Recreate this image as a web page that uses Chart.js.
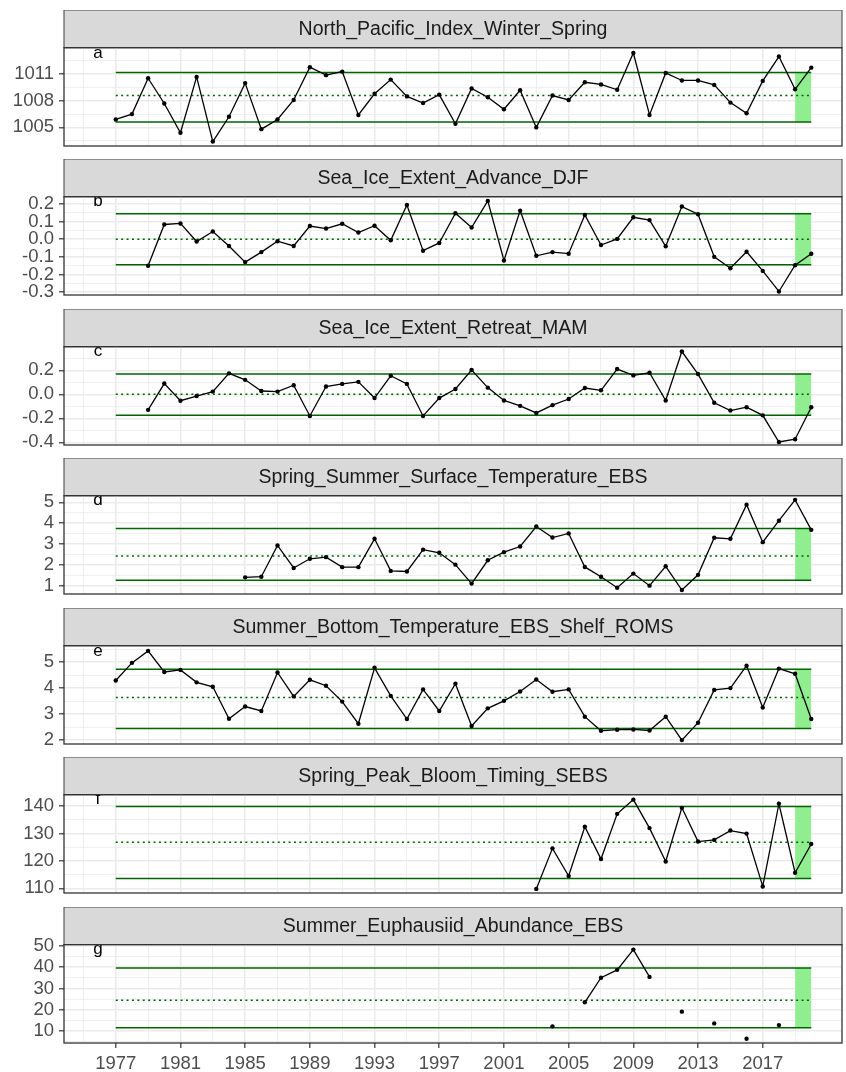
<!DOCTYPE html>
<html>
<head>
<meta charset="utf-8">
<script src="https://cdn.jsdelivr.net/npm/chart.js@4.4.1/dist/chart.umd.min.js"></script>
<style>
  html, body { margin: 0; padding: 0; background: #fff; }
  #wrap { position: relative; width: 846px; height: 1072px; overflow: hidden; }
  #wrap canvas { position: absolute; left: 0; }
</style>
</head>
<body>
<div id="wrap"></div>
<script>
const years = [1977, 1978, 1979, 1980, 1981, 1982, 1983, 1984, 1985, 1986,
  1987, 1988, 1989, 1990, 1991, 1992, 1993, 1994, 1995, 1996,
  1997, 1998, 1999, 2000, 2001, 2002, 2003, 2004, 2005, 2006,
  2007, 2008, 2009, 2010, 2011, 2012, 2013, 2014, 2015, 2016,
  2017, 2018, 2019, 2020];

// a
const northPacificIndex = [1005.9, 1006.5, 1010.55, 1007.7, 1004.4, 1010.7, 1003.4, 1006.2, 1010.0, 1004.8,
  1005.9, 1008.1, 1011.8, 1010.9, 1011.3, 1006.4, 1008.8, 1010.4, 1008.5, 1007.75,
  1008.7, 1005.4, 1009.4, 1008.4, 1007.05, 1009.2, 1005.0, 1008.6, 1008.1, 1010.1,
  1009.85, 1009.25, 1013.4, 1006.4, 1011.15, 1010.3, 1010.3, 1009.8, 1007.8, 1006.6,
  1010.25, 1013.0, 1009.3, 1011.75];
// b
const iceAdvance = [null, null, -0.151, 0.084, 0.09, -0.013, 0.044, -0.038, -0.13, -0.073,
  -0.011, -0.038, 0.075, 0.061, 0.088, 0.038, 0.077, -0.006, 0.195, -0.065,
  -0.021, 0.148, 0.067, 0.218, -0.121, 0.163, -0.094, -0.073, -0.082, 0.138,
  -0.033, 0.002, 0.125, 0.109, -0.04, 0.186, 0.142, -0.1, -0.165, -0.071,
  -0.18, -0.297, -0.148, -0.082];
// c
const iceRetreat = [null, null, -0.129, 0.09, -0.053, -0.014, 0.023, 0.175, 0.121, 0.028,
  0.023, 0.076, -0.18, 0.065, 0.087, 0.104, -0.031, 0.155, 0.087, -0.18,
  -0.031, 0.045, 0.203, 0.056, -0.051, -0.096, -0.155, -0.09, -0.039, 0.053,
  0.034, 0.211, 0.158, 0.18, -0.051, 0.357, 0.169, -0.07, -0.135, -0.107,
  -0.175, -0.397, -0.374, -0.107];
// d
const surfaceTemp = [null, null, null, null, null, null, null, null, 1.40, 1.43,
  2.93, 1.85, 2.29, 2.37, 1.89, 1.89, 3.25, 1.71, 1.68, 2.73,
  2.58, 2.01, 1.10, 2.22, 2.61, 2.88, 3.84, 3.31, 3.51, 1.90,
  1.43, 0.90, 1.58, 1.00, 1.93, 0.79, 1.52, 3.30, 3.25, 4.89,
  3.09, 4.12, 5.12, 3.68];
// e
const bottomTemp = [4.29, 4.97, 5.43, 4.62, 4.70, 4.22, 4.05, 2.82, 3.29, 3.12,
  4.60, 3.68, 4.32, 4.09, 3.48, 2.63, 4.78, 3.70, 2.81, 3.95,
  3.12, 4.17, 2.54, 3.22, 3.51, 3.87, 4.33, 3.86, 3.95, 2.90,
  2.36, 2.40, 2.41, 2.37, 2.90, 2.00, 2.67, 3.93, 4.00, 4.86,
  3.25, 4.75, 4.55, 2.81];
// f
const bloomTiming = [null, null, null, null, null, null, null, null, null, null,
  null, null, null, null, null, null, null, null, null, null,
  null, null, null, null, null, null, 109.8, 124.6, 114.5, 132.5,
  120.7, 137.2, 142.4, 132.0, 119.8, 139.4, 127.1, 127.7, 131.1, 130.0,
  110.7, 140.9, 115.7, 126.2];
// g
const euphausiids = [null, null, null, null, null, null, null, null, null, null,
  null, null, null, null, null, null, null, null, null, null,
  null, null, null, null, null, null, null, 12.2, null, 23.5,
  35.0, 38.7, 48.2, 35.4, null, 19.1, null, 13.6, null, 6.4,
  null, 12.8, null, null];

const panelTitles = [
  'North_Pacific_Index_Winter_Spring',
  'Sea_Ice_Extent_Advance_DJF',
  'Sea_Ice_Extent_Retreat_MAM',
  'Spring_Summer_Surface_Temperature_EBS',
  'Summer_Bottom_Temperature_EBS_Shelf_ROMS',
  'Spring_Peak_Bloom_Timing_SEBS',
  'Summer_Euphausiid_Abundance_EBS'
];
const panelLetters = ['a', 'b', 'c', 'd', 'e', 'f', 'g'];
const seriesList = [northPacificIndex, iceAdvance, iceRetreat, surfaceTemp, bottomTemp, bloomTiming, euphausiids];

// среднее и ± 1 SD
const upperLines = [1011.2, 0.145, 0.169, 3.75, 4.72, 139.9, 39.6];
const meanLines = [1008.6, 0.0, 0.0, 2.43, 3.64, 126.8, 24.5];
const lowerLines = [1005.6, -0.145, -0.175, 1.26, 2.45, 113.6, 11.6];

const yTickLabels = [
  [1005, 1008, 1011],
  [-0.3, -0.2, -0.1, 0.0, 0.1, 0.2],
  [-0.4, -0.2, 0.0, 0.2],
  [1, 2, 3, 4, 5],
  [2, 3, 4, 5],
  [110, 120, 130, 140],
  [10, 20, 30, 40, 50]
];
const yLimits = [[1002.9, 1014.0], [-0.317, 0.242], [-0.422, 0.397], [0.6, 5.32], [1.85, 5.63], [108.3, 144.2], [4.4, 50.5]];
const yDecimals = [0, 1, 1, 0, 0, 0, 0];

const xTickLabels = [1977, 1981, 1985, 1989, 1993, 1997, 2001, 2005, 2009, 2013, 2017];
const xLimits = [1973.8, 2021.9];
const lineRange = [1977, 2020];
const shadeRange = [2019, 2020];
const letterX = 1975.9;

const FONT = '"Liberation Sans", Arial, sans-serif';
const STRIP_H = 37.7;
const PANEL_H = 98.4;
const PERIOD = 149.5;
const FIRST_TOP = 9.5;

// главные + промежуточные деления (как minor breaks в ggplot)
function withMinor(major, min, max) {
  const step = major[1] - major[0];
  const all = [];
  for (let i = 0; i < major.length; i++) {
    all.push({ value: major[i], major: true });
    all.push({ value: major[i] + step / 2, major: false });
  }
  all.push({ value: major[0] - step / 2, major: false });
  return all.filter((t) => t.value >= min && t.value <= max).sort((a, b) => a.value - b.value);
}

function isMajor(list, v) {
  return list.some((t) => Math.abs(t - v) < 1e-9);
}

// Полоса с заголовком, буква панели, рамка
const panelDeco = {
  id: 'panelDeco',
  beforeDraw(chart, args, opts) {
    const { ctx, chartArea: { top, left, right } } = chart;
    ctx.save();
    ctx.fillStyle = '#d9d9d9';
    ctx.fillRect(left, top - STRIP_H, right - left, STRIP_H);
    ctx.strokeStyle = '#4d4d4d';
    ctx.lineWidth = 1.1;
    ctx.strokeRect(left, top - STRIP_H, right - left, STRIP_H);
    ctx.fillStyle = '#1a1a1a';
    ctx.font = `19.5px ${FONT}`;
    ctx.textAlign = 'center';
    ctx.textBaseline = 'middle';
    ctx.fillText(opts.title, (left + right) / 2, top - STRIP_H / 2 + 1);
    ctx.restore();
  },
  afterDatasetsDraw(chart, args, opts) {
    const { ctx, chartArea: { top, bottom, left, right }, scales } = chart;
    ctx.save();
    ctx.beginPath();
    ctx.rect(left, top, right - left, bottom - top);
    ctx.clip();
    ctx.fillStyle = '#000';
    ctx.font = `17px ${FONT}`;
    ctx.textAlign = 'center';
    ctx.textBaseline = 'middle';
    ctx.fillText(opts.letter, scales.x.getPixelForValue(letterX), scales.y.getPixelForValue(opts.letterY));
    ctx.restore();
  },
  afterDraw(chart) {
    const { ctx, chartArea: { top, bottom, left, right } } = chart;
    ctx.save();
    ctx.strokeStyle = '#333333';
    ctx.lineWidth = 1.3;
    ctx.strokeRect(left, top, right - left, bottom - top);
    ctx.restore();
  },
};

const wrap = document.getElementById('wrap');

seriesList.forEach((series, i) => {
  const isLast = i === seriesList.length - 1;
  const xAxisH = isLast ? 29.5 : 0;
  const padBottom = isLast ? 0.5 : 12;
  const height = Math.round(STRIP_H + PANEL_H + xAxisH + padBottom);

  const canvas = document.createElement('canvas');
  canvas.width = 846;
  canvas.height = height;
  canvas.style.top = `${FIRST_TOP + PERIOD * i}px`;
  wrap.appendChild(canvas);

  const yTicks = withMinor(yTickLabels[i], yLimits[i][0], yLimits[i][1]);
  const xTicks = withMinor(xTickLabels, xLimits[0], xLimits[1]);
  const maxValue = Math.max(...series.filter((v) => v !== null));
  const flat = (v) => [{ x: lineRange[0], y: v }, { x: lineRange[1], y: v }];

  new Chart(canvas, {
    type: 'line',
    data: {
      datasets: [
        {
          data: [{ x: shadeRange[0], y: upperLines[i] }, { x: shadeRange[1], y: upperLines[i] }],
          backgroundColor: '#90ee90',
          borderWidth: 0,
          pointRadius: 0,
          fill: '+1',
          order: 5,
        },
        {
          data: [{ x: shadeRange[0], y: lowerLines[i] }, { x: shadeRange[1], y: lowerLines[i] }],
          borderWidth: 0,
          pointRadius: 0,
          fill: false,
          order: 6,
        },
        { data: flat(upperLines[i]), borderColor: '#006400', borderWidth: 1.5, pointRadius: 0, order: 3 },
        { data: flat(meanLines[i]), borderColor: '#006400', borderWidth: 1.5, borderDash: [2, 3.4], pointRadius: 0, order: 3 },
        { data: flat(lowerLines[i]), borderColor: '#006400', borderWidth: 1.5, pointRadius: 0, order: 3 },
        {
          data: years.map((y, k) => ({ x: y, y: series[k] })),
          borderColor: '#000',
          borderWidth: 1.3,
          pointRadius: 2.2,
          pointBackgroundColor: '#000',
          pointBorderWidth: 0,
          spanGaps: false,
          order: 1,
        },
      ],
    },
    options: {
      responsive: false,
      animation: false,
      devicePixelRatio: 1,
      layout: { padding: { top: STRIP_H, bottom: padBottom, left: 0, right: 2 } },
      plugins: {
        legend: { display: false },
        tooltip: { enabled: false },
        panelDeco: { title: panelTitles[i], letter: panelLetters[i], letterY: maxValue },
      },
      scales: {
        x: {
          type: 'linear',
          min: xLimits[0],
          max: xLimits[1],
          afterBuildTicks: (scale) => { scale.ticks = xTicks.map((t) => ({ value: t.value })); },
          afterFit: (scale) => {
            scale.height = xAxisH;
            scale.paddingLeft = 0;
            scale.paddingRight = 0;
          },
          border: { display: false },
          grid: {
            color: '#ebebeb',
            lineWidth: (c) => (isMajor(xTickLabels, c.tick.value) ? 1.6 : 0.8),
            drawTicks: isLast,
            tickLength: 5,
            tickColor: (c) => (isMajor(xTickLabels, c.tick.value) ? '#333333' : 'rgba(0,0,0,0)'),
            tickWidth: 1.2,
          },
          ticks: {
            display: isLast,
            autoSkip: false,
            maxRotation: 0,
            padding: 5,
            color: '#4d4d4d',
            font: { family: FONT, size: 18.5 },
            callback: (v) => (isMajor(xTickLabels, v) ? String(v) : ''),
          },
        },
        y: {
          type: 'linear',
          min: yLimits[i][0],
          max: yLimits[i][1],
          afterBuildTicks: (scale) => { scale.ticks = yTicks.map((t) => ({ value: t.value })); },
          afterFit: (scale) => {
            scale.width = 64;
            scale.paddingTop = 0;
            scale.paddingBottom = 0;
          },
          border: { display: false },
          grid: {
            color: '#ebebeb',
            lineWidth: (c) => (isMajor(yTickLabels[i], c.tick.value) ? 1.6 : 0.8),
            tickLength: 5,
            tickColor: (c) => (isMajor(yTickLabels[i], c.tick.value) ? '#333333' : 'rgba(0,0,0,0)'),
            tickWidth: 1.2,
          },
          ticks: {
            autoSkip: false,
            padding: 5,
            color: '#4d4d4d',
            font: { family: FONT, size: 18.5 },
            callback: (v) => (isMajor(yTickLabels[i], v) ? v.toFixed(yDecimals[i]) : ''),
          },
        },
      },
    },
    plugins: [panelDeco],
  });
});
</script>
</body>
</html>
